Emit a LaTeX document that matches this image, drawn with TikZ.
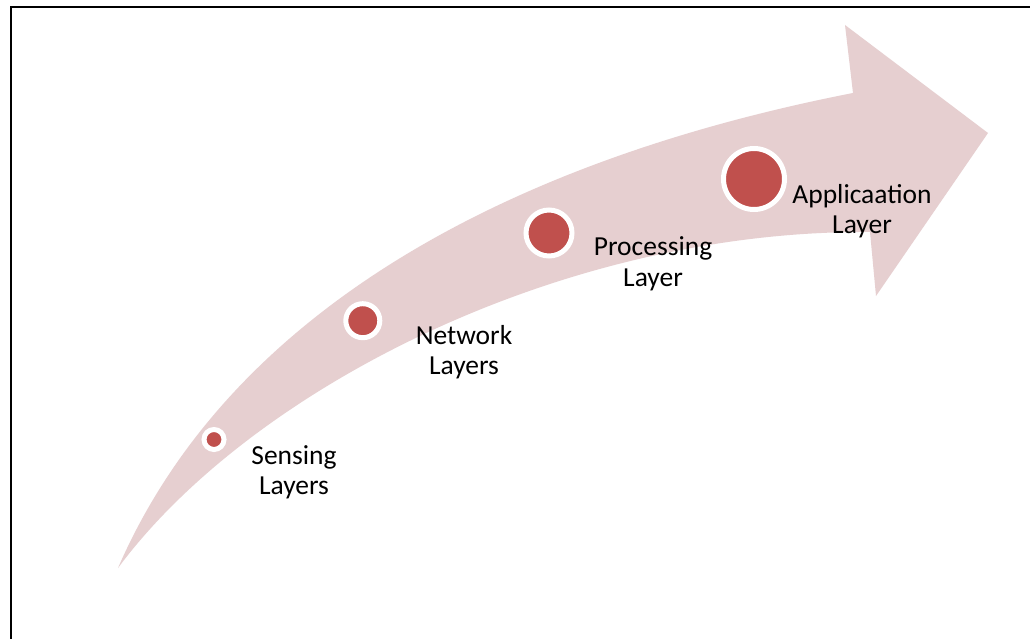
\documentclass[tikz,border=0pt]{standalone}
\usepackage{fontspec}
\setmainfont{Carlito}
\definecolor{arrowpink}{RGB}{230,207,208}
\definecolor{dotred}{RGB}{192,80,77}
\begin{document}
\begin{tikzpicture}[x=1pt,y=-1pt,
  dot/.style={circle,fill=dotred,draw=white,line width=#1,inner sep=0pt},
  lbl/.style={align=center,font=\fontsize{27.5}{30.5}\selectfont,text=black,inner sep=0pt}]
\useasboundingbox (0,0) rectangle (1030,639);
\fill[white] (0,0) rectangle (1030,639);
% frame
\draw[line width=2.4pt,black] (10.8,640) -- (10.8,7) -- (1031,7);
% curved arrow
\fill[arrowpink] (118,568) .. controls (230,310) and (510,160) .. (853,93)
  -- (845,25) -- (988,133) -- (876,296) -- (870,232)
  .. controls (560,230) and (250,390) .. (118,568) -- cycle;
% dots
\node[dot=5pt,minimum size=20pt] (s) at (214,439.5) {};
\node[dot=5pt,minimum size=34pt] (n) at (362.8,320.7) {};
\node[dot=5pt,minimum size=46pt] (p) at (549,233) {};
\node[dot=5pt,minimum size=61pt] (a) at (754,179) {};
% labels
\node[lbl] (sl) at (294,472.5) {Sensing\\Layers};
\node[lbl] (nl) at (464,352) {Network\\Layers};
\node[lbl] (pl) at (653,264) {Processing\\Layer};
\node[lbl] (al) at (862,211) {Applicaation\\Layer};
\end{tikzpicture}
\end{document}
